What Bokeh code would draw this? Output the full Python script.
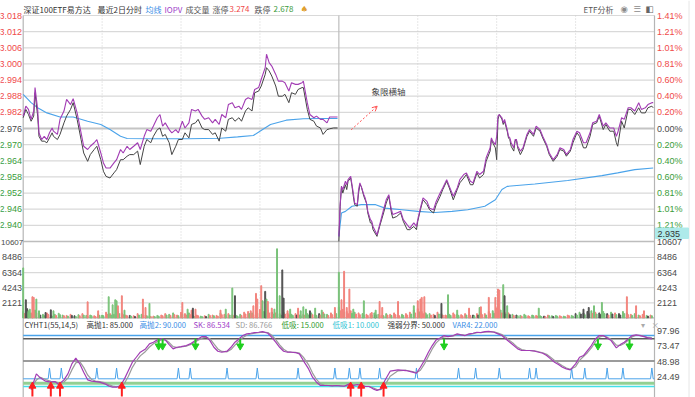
from bokeh.plotting import figure
from bokeh.models import Range1d, Arrow, OpenHead
from bokeh.core.properties import value
from bokeh.embed import file_html
from bokeh.resources import INLINE

# ---------------- data ----------------
PREV_CLOSE = 2.976
price_ticks = [3.018, 3.012, 3.006, 3.000, 2.994, 2.988, 2.982, 2.976,
               2.970, 2.964, 2.958, 2.952, 2.946, 2.940]
vol_ticks = [2121, 4243, 6364, 8486, 10607]
ind_ticks = [97.96, 73.47, 48.98, 24.49]

# day 1 (minutes 0-239)
d1_min = [0, 2, 4, 6, 8, 9, 11, 12, 14, 16,
          18, 20, 22, 23, 26, 28, 31, 33, 36, 38,
          41, 44, 46, 49, 51, 54, 56, 59, 61, 63,
          66, 69, 71, 74, 76, 79, 81, 84, 87, 89,
          92, 94, 97, 99, 102, 104, 106, 108, 111, 113,
          116, 118, 121, 123, 126, 128, 131, 133, 136, 138,
          141, 144, 146, 149, 151, 154, 156, 159, 161, 164,
          166, 169, 171, 174, 176, 179, 181, 184, 185, 187,
          189, 192, 194, 197, 199, 202, 204, 207, 209, 212,
          213, 216, 218, 221, 223, 226, 228, 231, 233, 236,
          239]
d1_iopv = [2.9806, 2.9843, 2.9831, 2.9794, 2.9825, 2.9912, 2.9831, 2.9744, 2.9719, 2.9731,
           2.9719, 2.9744, 2.9762, 2.9750, 2.9738, 2.9794, 2.9825, 2.9868, 2.9849, 2.9871,
           2.9818, 2.9744, 2.9694, 2.9682, 2.9694, 2.9707, 2.9719, 2.9669, 2.9632, 2.9613,
           2.9613, 2.9632, 2.9644, 2.9682, 2.9669, 2.9694, 2.9682, 2.9694, 2.9707, 2.9682,
           2.9731, 2.9756, 2.9750, 2.9769, 2.9800, 2.9812, 2.9769, 2.9781, 2.9756, 2.9744,
           2.9756, 2.9744, 2.9787, 2.9762, 2.9781, 2.9831, 2.9825, 2.9831, 2.9806, 2.9794,
           2.9800, 2.9781, 2.9794, 2.9775, 2.9812, 2.9800, 2.9849, 2.9856, 2.9837, 2.9843,
           2.9831, 2.9868, 2.9874, 2.9868, 2.9905, 2.9912, 2.9943, 2.9986, 3.0036, 3.0005,
           2.9992, 2.9961, 2.9936, 2.9936, 2.9930, 2.9899, 2.9930, 2.9924, 2.9924, 2.9930,
           2.9936, 2.9856, 2.9812, 2.9800, 2.9806, 2.9794, 2.9794, 2.9781, 2.9803, 2.9803,
           2.9803]
d1_price = [2.9800, 2.9831, 2.9812, 2.9787, 2.9806, 2.9893, 2.9806, 2.9731, 2.9713, 2.9713,
            2.9707, 2.9725, 2.9744, 2.9731, 2.9719, 2.9738, 2.9781, 2.9806, 2.9831, 2.9856,
            2.9794, 2.9719, 2.9669, 2.9638, 2.9663, 2.9682, 2.9694, 2.9644, 2.9601, 2.9582,
            2.9576, 2.9595, 2.9607, 2.9644, 2.9644, 2.9657, 2.9663, 2.9663, 2.9676, 2.9626,
            2.9694, 2.9719, 2.9707, 2.9731, 2.9756, 2.9762, 2.9731, 2.9738, 2.9707, 2.9663,
            2.9694, 2.9719, 2.9719, 2.9744, 2.9725, 2.9775, 2.9781, 2.9794, 2.9762, 2.9756,
            2.9756, 2.9738, 2.9744, 2.9713, 2.9762, 2.9750, 2.9794, 2.9800, 2.9787, 2.9800,
            2.9787, 2.9825, 2.9837, 2.9825, 2.9893, 2.9899, 2.9918, 2.9961, 2.9986, 2.9974,
            2.9955, 2.9918, 2.9880, 2.9880, 2.9887, 2.9856, 2.9893, 2.9887, 2.9905, 2.9912,
            2.9912, 2.9831, 2.9794, 2.9787, 2.9769, 2.9762, 2.9738, 2.9756, 2.9759, 2.9762,
            2.9762]
d1_avg_min = [0, 6, 11, 18, 28, 38, 49, 59, 66, 74, 79, 99, 125, 150, 163, 175, 180, 188, 200, 213, 226, 239]
d1_avg = [2.9887, 2.9856, 2.9837, 2.9818, 2.9803, 2.9803, 2.9787, 2.9775, 2.9756, 2.9731, 2.9723,
          2.9722, 2.9722, 2.9724, 2.9729, 2.9734, 2.9750, 2.9775, 2.9791, 2.9796, 2.9797, 2.9797]

# day 2 (minutes 240-479)
d2_min = [240, 241, 242, 243, 245, 246, 247, 249, 250, 251,
          252, 254, 255, 256, 257, 259, 260, 261, 262, 264,
          265, 266, 269, 271, 274, 276, 278, 279, 280, 281,
          284, 287, 289, 292, 294, 297, 299, 300, 302, 304,
          307, 309, 312, 314, 317, 319, 322, 324, 327, 330,
          332, 335, 337, 340, 342, 345, 347, 350, 352, 355,
          356, 357, 359, 360, 361, 362, 364, 365, 366, 368,
          369, 370, 371, 373, 374, 375, 376, 378, 380, 383,
          385, 388, 390, 393, 395, 398, 400, 403, 406, 408,
          411, 413, 416, 418, 421, 423, 426, 428, 431, 433,
          436, 438, 441, 443, 446, 449, 451, 452, 455, 457,
          460, 462, 465, 468, 470, 473, 475, 478, 479]
d2_price = [2.9340, 2.9471, 2.9545, 2.9520, 2.9551, 2.9533, 2.9564, 2.9576, 2.9545, 2.9508,
            2.9477, 2.9471, 2.9520, 2.9551, 2.9545, 2.9508, 2.9495, 2.9483, 2.9446, 2.9409,
            2.9409, 2.9384, 2.9359, 2.9396, 2.9446, 2.9483, 2.9508, 2.9477, 2.9446, 2.9427,
            2.9433, 2.9446, 2.9415, 2.9384, 2.9384, 2.9396, 2.9384, 2.9415, 2.9458, 2.9495,
            2.9477, 2.9458, 2.9446, 2.9477, 2.9508, 2.9533, 2.9564, 2.9539, 2.9495, 2.9533,
            2.9558, 2.9576, 2.9589, 2.9551, 2.9551, 2.9595, 2.9576, 2.9589, 2.9638, 2.9676,
            2.9719, 2.9707, 2.9688, 2.9644, 2.9794, 2.9812, 2.9794, 2.9775, 2.9787, 2.9750,
            2.9725, 2.9719, 2.9694, 2.9676, 2.9713, 2.9719, 2.9688, 2.9663, 2.9682, 2.9731,
            2.9750, 2.9731, 2.9762, 2.9750, 2.9725, 2.9694, 2.9663, 2.9638, 2.9657, 2.9682,
            2.9676, 2.9657, 2.9676, 2.9707, 2.9744, 2.9731, 2.9688, 2.9688, 2.9731, 2.9775,
            2.9781, 2.9806, 2.9756, 2.9775, 2.9750, 2.9750, 2.9707, 2.9694, 2.9787, 2.9762,
            2.9831, 2.9831, 2.9812, 2.9837, 2.9818, 2.9818, 2.9837, 2.9843, 2.9837]
d2_iopv = [2.9359, 2.9477, 2.9545, 2.9533, 2.9564, 2.9551, 2.9570, 2.9582, 2.9551, 2.9520,
           2.9483, 2.9477, 2.9533, 2.9558, 2.9545, 2.9514, 2.9502, 2.9483, 2.9452, 2.9421,
           2.9415, 2.9396, 2.9365, 2.9402, 2.9458, 2.9495, 2.9514, 2.9483, 2.9458, 2.9440,
           2.9446, 2.9452, 2.9421, 2.9402, 2.9390, 2.9409, 2.9396, 2.9421, 2.9464, 2.9502,
           2.9489, 2.9464, 2.9458, 2.9489, 2.9520, 2.9539, 2.9570, 2.9545, 2.9508, 2.9539,
           2.9570, 2.9589, 2.9595, 2.9564, 2.9558, 2.9601, 2.9589, 2.9601, 2.9651, 2.9688,
           2.9725, 2.9713, 2.9700, 2.9731, 2.9806, 2.9812, 2.9800, 2.9781, 2.9794, 2.9756,
           2.9731, 2.9725, 2.9707, 2.9688, 2.9719, 2.9719, 2.9694, 2.9676, 2.9688, 2.9738,
           2.9756, 2.9738, 2.9769, 2.9756, 2.9731, 2.9700, 2.9669, 2.9644, 2.9663, 2.9688,
           2.9682, 2.9663, 2.9682, 2.9719, 2.9750, 2.9744, 2.9707, 2.9707, 2.9744, 2.9781,
           2.9787, 2.9812, 2.9769, 2.9781, 2.9762, 2.9762, 2.9731, 2.9744, 2.9800, 2.9794,
           2.9837, 2.9837, 2.9825, 2.9856, 2.9831, 2.9837, 2.9849, 2.9856, 2.9856]
d2_avg_min = [240, 242, 245, 250, 257, 268, 275, 288, 300, 313, 326, 338, 351, 359, 364, 368, 389, 414, 440, 452, 465, 479]
d2_avg = [2.9359, 2.9446, 2.9452, 2.9471, 2.9477, 2.9477, 2.9464, 2.9458, 2.9452, 2.9448, 2.9452,
          2.9458, 2.9471, 2.9495, 2.9533, 2.9545, 2.9554, 2.9567, 2.9585, 2.9595, 2.9607, 2.9613]

# volume: background bars (two interleaved sets) + the taller bars
small_vol_min = list(range(0, 480, 3))
small_vol = [900, 1300, 700, 1100, 600, 500, 700, 400, 500, 650, 400, 350, 500, 300, 450, 600, 350, 400, 300, 500,
             400, 800, 600, 500, 900, 700, 400, 350, 300, 600, 500, 400, 300, 250, 350, 400, 600, 500, 700, 400,
             800, 600, 700, 300, 400, 250, 300, 500, 400, 350, 700, 500, 600, 450, 350, 500, 800, 900, 700, 1000,
             1200, 900, 1100, 800, 700, 600, 800, 700, 500, 600, 400, 500, 600, 700, 500, 600, 800, 500, 700, 900,
             1500, 1200, 900, 1000, 800, 700, 600, 500, 600, 700, 500, 400, 600, 500, 700, 400, 500, 600, 800, 1100,
             1300, 900, 700, 600, 500, 800, 600, 400, 500, 700, 500, 450, 600, 500, 400, 600, 700, 600, 900, 1000,
             1400, 1100, 800, 700, 500, 400, 350, 500, 300, 400, 350, 300, 250, 400, 300, 350, 300, 250, 400, 350,
             600, 800, 700, 900, 1000, 800, 700, 900, 600, 800, 700, 600, 900, 700, 500, 600, 400, 500, 350, 400]
small_vol_dir = ("gkrgrgrrgggrrkgrggrg" "grrgggrkrrgrgrgrrggr" "rrgkrgrgrrgrrrggrrgr" "rgrkrggrgrgrggrkrgrg"
                 "grrrgrgrrggrgrrrgrrg" "rrggrrgrgrgrrgkrgrrg" "rgrrgkggrgrgkrggrgrg" "kgkkgrkgkgrkgkrggrgr")
small_vol2_min = list(range(1, 480, 3))
small_vol2 = [600, 800, 500, 700, 400, 300, 500, 250, 350, 450, 300, 250, 350, 200, 300, 400, 250, 300, 200, 350,
              300, 500, 400, 350, 600, 450, 300, 250, 200, 400, 350, 300, 200, 180, 250, 300, 400, 350, 450, 300,
              500, 400, 450, 200, 300, 180, 200, 350, 300, 250, 450, 350, 400, 300, 250, 350, 550, 600, 450, 650,
              800, 600, 700, 550, 450, 400, 550, 450, 350, 400, 300, 350, 400, 450, 350, 400, 550, 350, 450, 600,
              1000, 800, 600, 650, 550, 450, 400, 350, 400, 450, 350, 300, 400, 350, 450, 300, 350, 400, 550, 700,
              850, 600, 450, 400, 350, 550, 400, 300, 350, 450, 350, 300, 400, 350, 300, 400, 450, 400, 600, 650,
              900, 700, 550, 450, 350, 300, 250, 350, 200, 300, 250, 200, 180, 300, 200, 250, 200, 180, 300, 250,
              400, 550, 450, 600, 650, 550, 450, 600, 400, 550, 450, 400, 600, 450, 350, 400, 300, 350, 250, 300]
small_vol2_dir = ("rggrkgrgrgrgkgrgrgrg" "grgrgrrgkgrgrggrgrrg" "grrgrgkrgrrggrgrrgrg" "rgrgrgrrgkgrgrgrgrrg"
                  "rgrgrrgrgkrgrgrrgrgr" "grgrkgrrgrgrgrgkrgrg" "grgkrgrgrgrgrgkgrgrg" "gkgkrgkgrkgkgrgkrgkg")
big_vol_min = [0, 2, 4, 5, 7, 8, 10, 12, 17, 21,
               23, 49, 57, 65, 68, 70, 71, 72, 75, 77,
               91, 93, 96, 121, 125, 128, 129, 131, 150, 154,
               159, 161, 173, 175, 177, 178, 181, 182, 184, 185,
               186, 189, 191, 193, 195, 197, 198, 201, 203, 209,
               211, 213, 215, 218, 222, 227, 237, 240, 242, 244,
               246, 248, 251, 259, 265, 268, 271, 273, 285, 297,
               300, 302, 303, 305, 318, 323, 330, 339, 347, 348,
               354, 359, 361, 362, 365, 366, 368, 392, 426, 430,
               434, 440, 459, 466, 472]
big_vol = [7020, 2545, 990, 1225, 2970, 2875, 2640, 990, 755, 1130,
           990, 2260, 990, 2970, 1840, 2545, 2400, 1700, 3110, 1085,
           2640, 1460, 2030, 2170, 1225, 1085, 1365, 1225, 1085, 1225,
           4195, 3110, 990, 1700, 3440, 2640, 4525, 2400, 3725, 2640,
           2310, 1365, 1225, 9710, 3110, 6740, 2780, 990, 1225, 1365,
           990, 1555, 1225, 990, 1365, 1085, 1460, 6410, 2545, 6550,
           1460, 4050, 1225, 2400, 755, 1085, 2310, 1460, 2310, 1700,
           2400, 2640, 2875, 2970, 2030, 3250, 1085, 1365, 1460, 1555,
           2875, 2875, 4050, 3910, 4665, 3110, 1700, 1365, 1225, 1460,
           1700, 2170, 2970, 1700, 990]
big_vol_dir = ("gkggrrggkk" "grrggggrrg" "rrgrgrkrrg" "gkrrrrrgkg" "rrgggkkrgr"
               "gggkggrgrr" "rrggrgrrrg" "rrrrkggrgr" "rrrrgkggkk" "ggrrr")

# CYHT1 indicator
sk_min = [6, 10, 13, 17, 21, 24, 27, 31, 34, 37,
          40, 43, 46, 49, 52, 55, 58, 62, 65, 68,
          71, 74, 77, 80, 83, 86, 89, 93, 96, 99,
          102, 105, 108, 111, 114, 117, 120, 124, 127, 130,
          133, 136, 139, 142, 145, 148, 151, 155, 158, 161,
          164, 167, 170, 173, 176, 179, 182, 186, 189, 192,
          195, 198, 201, 204, 207, 210, 213, 217, 220, 223,
          226, 229, 232, 235, 238, 241, 244, 248, 251, 254,
          257, 260, 263, 266, 269, 272, 275, 279, 285, 291,
          296, 299, 302, 305, 308, 311, 314, 317, 320, 323,
          327, 330, 333, 336, 339, 342, 345, 348, 351, 354,
          358, 361, 364, 367, 370, 373, 376, 379, 382, 385,
          389, 392, 395, 398, 401, 404, 407, 410, 413, 416,
          420, 423, 426, 429, 432, 435, 438, 441, 444, 447,
          451, 454, 457, 460, 463, 466, 469, 472, 475, 478]
sk = [4.7, 29.8, 23.5, 18.3, 16.7, 17.7, 13.0, 20.4, 29.8, 45.5,
      54.4, 45.5, 32.4, 20.4, 18.3, 17.7, 16.7, 14.1, 10.9, 8.8,
      8.8, 11.5, 21.9, 35.0, 48.1, 55.9, 63.8, 69.0, 76.9, 79.5,
      83.2, 84.7, 83.2, 75.8, 69.0, 71.6, 72.7, 74.3, 76.9, 81.1,
      84.7, 88.4, 88.4, 82.1, 71.6, 65.4, 63.8, 65.4, 71.6, 79.5,
      84.7, 90.0, 92.6, 93.6, 94.7, 95.2, 96.2, 93.6, 87.3, 79.5,
      71.6, 65.4, 63.8, 63.8, 63.3, 61.2, 50.7, 37.6, 24.5, 16.7,
      11.5, 11.5, 11.5, 10.9, 11.5, 10.9, 10.4, 14.1, 11.5, 13.0,
      11.5, 9.9, 9.9, 6.2, 3.6, 6.2, 19.3, 34.0, 36.1, 35.0,
      32.4, 30.8, 40.2, 50.7, 63.3, 74.3, 83.2, 86.3, 90.0, 88.4,
      90.0, 92.6, 91.0, 90.0, 92.6, 93.6, 95.2, 94.7, 96.2, 96.7,
      95.2, 92.6, 90.0, 84.7, 79.5, 74.3, 69.0, 66.5, 66.5, 66.5,
      65.4, 63.8, 62.2, 58.6, 53.3, 48.1, 44.4, 40.2, 37.6, 36.1,
      45.5, 55.9, 58.6, 66.5, 74.3, 84.7, 90.0, 90.0, 86.3, 82.1,
      70.6, 75.8, 79.5, 84.7, 90.0, 91.0, 90.0, 88.4, 86.3, 84.7]
sd = [8.0, 20.0, 24.5, 21.0, 18.0, 17.5, 15.5, 17.0, 23.0, 36.0,
      47.0, 49.0, 40.0, 28.0, 21.0, 18.5, 17.5, 16.0, 13.0, 10.5,
      9.5, 10.0, 15.0, 26.0, 40.0, 50.0, 58.0, 65.0, 72.0, 77.0,
      80.5, 83.0, 83.5, 79.0, 72.5, 71.0, 72.0, 73.5, 75.5, 79.0,
      82.5, 86.0, 87.5, 85.0, 77.0, 69.0, 65.0, 64.5, 68.0, 75.0,
      81.5, 87.0, 90.5, 92.5, 93.8, 94.6, 95.5, 94.8, 90.5, 83.5,
      75.5, 68.5, 64.5, 63.8, 63.5, 62.3, 56.0, 44.0, 31.0, 21.0,
      14.0, 12.0, 11.5, 11.2, 11.2, 11.2, 10.7, 12.5, 12.5, 12.3,
      12.2, 10.7, 10.0, 8.0, 5.0, 5.0, 12.0, 26.0, 34.5, 35.5,
      33.5, 31.5, 35.5, 45.0, 57.0, 69.0, 78.5, 84.5, 88.0, 88.5,
      89.5, 91.5, 91.5, 90.5, 91.5, 93.0, 94.5, 94.8, 95.5, 96.3,
      95.8, 93.8, 91.5, 87.5, 82.0, 77.0, 71.5, 68.0, 66.8, 66.5,
      65.8, 64.5, 63.0, 60.5, 56.0, 51.0, 46.5, 42.5, 39.0, 37.0,
      41.0, 51.0, 57.0, 63.0, 70.5, 80.0, 87.5, 89.5, 87.5, 84.0,
      75.0, 74.5, 77.5, 82.5, 88.0, 90.5, 90.3, 89.0, 87.0, 86.8]
HIGH_SELL2, HIGH_SELL1, MID_LINE, LOW_BUY, LOW_BUY1 = 90.0, 85.0, 50.0, 15.0, 10.0
VAR4_BASE, VAR4_PEAK = 22.0, 39.0
var4_spike_min = [20, 29, 56, 71, 118, 127, 155, 178, 209, 237, 248, 256,
                  271, 299, 331, 344, 362, 385, 390, 417, 427, 444, 456, 478]
buy_min = [7, 21, 28, 75, 249, 257, 274]
sell_min = [103, 106, 131, 165, 320, 437, 461]

# ---------------- layout: one frame, reference-pixel geometry ----------------
W, H = 695, 397
REF_W, REF_H = 695, 397
FX0, FX1 = 22.7, 654.0


def xr(px):
    return (px - FX0) / (FX1 - FX0) * 480.0


def py(y):
    return 3.018 - (y - 15.0) * 0.084 / 226.0


def vy(y):
    return (317.4 - y) * 10607.0 / (317.4 - 241.9)


def iy(y):
    return (392.3 - y) * 97.96 / (392.3 - 330.0)


p = figure(width=W, height=H, output_backend="svg", toolbar_location=None,
           x_range=Range1d(xr(0), xr(REF_W)), y_range=Range1d(py(REF_H), py(0)),
           x_axis_type=None, y_axis_type=None, min_border=0, title=None)
p.extra_y_ranges = {"vol": Range1d(vy(REF_H), vy(0)), "ind": Range1d(iy(REF_H), iy(0))}
p.outline_line_color = None
p.background_fill_color = "#ffffff"
p.border_fill_color = "#ffffff"

GRID = "#d9d9d9"
LBL_FONT = value("Liberation Sans")
CJK = value("Noto Sans CJK SC")
RED, GREEN, DARK = "#f04a4a", "#3a9c3a", "#4a4a4a"

# price grid
pt = [t for t in price_ticks if abs(t - PREV_CLOSE) > 1e-9]
p.segment(x0=[0] * len(pt), x1=[480] * len(pt), y0=pt, y1=pt, line_color=GRID, line_width=1.2)
p.segment(x0=0, x1=480, y0=PREV_CLOSE, y1=PREV_CLOSE, line_color="#c4c4c4", line_width=2.2)
p.segment(x0=0, x1=480, y0=2.934, y1=2.934, line_color="#bdbdbd", line_width=1.5)
# volume grid
vt = vol_ticks[:-1]
p.segment(x0=[0] * len(vt), x1=[480] * len(vt), y0=vt, y1=vt, line_color=GRID, line_width=1.2, y_range_name="vol")
p.segment(x0=0, x1=480, y0=0, y1=0, line_color="#b0b0b0", line_width=1.2, y_range_name="vol")
# time grid
hours = [60, 120, 180, 300, 360, 420]
p.segment(x0=hours, x1=hours, y0=[3.018] * 6, y1=[py(317)] * 6, line_color="#cfcfcf", line_width=1, line_dash="1 2")
p.segment(x0=240, x1=240, y0=3.018, y1=py(317), line_color="#bdbdbd", line_width=1.2)
# frame edges
p.segment(x0=[0, 480], x1=[0, 480], y0=[3.018, 3.018], y1=[py(REF_H)] * 2, line_color="#b5b5b5", line_width=1.2)
p.segment(x0=xr(688.5), x1=xr(688.5), y0=py(0), y1=py(REF_H), line_color="#e6e6e6", line_width=1)

# ---------------- price panel ----------------
for mins, avg in ((d1_avg_min, d1_avg), (d2_avg_min, d2_avg)):
    p.line(mins, avg, line_color="#4aa3ea", line_width=1.1)
for mins, pr, io in ((d1_min, d1_price, d1_iopv), (d2_min, d2_price, d2_iopv)):
    p.line(mins, pr, line_color="#444444", line_width=1)
    p.line(mins, io, line_color="#a23cb4", line_width=1.1)

# ---------------- volume panel ----------------
cmap = {"r": "#f2837c", "g": "#79c279", "k": "#505050"}
for mins, vols, dirs in ((small_vol_min, small_vol, small_vol_dir),
                         (small_vol2_min, small_vol2, small_vol2_dir),
                         (big_vol_min, big_vol, big_vol_dir)):
    p.vbar(x=mins, top=vols, bottom=0, width=0.7,
           color=[cmap[c] for c in dirs], y_range_name="vol")

# ---------------- indicator panel ----------------
lv = [HIGH_SELL2, HIGH_SELL1, MID_LINE, LOW_BUY, LOW_BUY1]
p.segment(x0=[0] * 5, x1=[480] * 5, y0=lv, y1=lv,
          line_color=["#4aa3ea", "#5a5a5a", "#7a7a7a", "#93d093", "#45e0e8"],
          line_width=[1.5, 1.5, 1.5, 3, 1.5], y_range_name="ind")
vx, vyv = [0], [VAR4_BASE]
for m in var4_spike_min:
    vx += [m - 1, m, m + 1]
    vyv += [VAR4_BASE, VAR4_PEAK, VAR4_BASE]
vx.append(480)
vyv.append(VAR4_BASE)
p.line(vx, vyv, line_color="#4aa3ea", line_width=1, y_range_name="ind")
p.line(sk_min, sd, line_color="#9a9a9a", line_width=1.2, y_range_name="ind")
p.line(sk_min, sk, line_color="#a23cb4", line_width=1.2, y_range_name="ind")
nb, ns = len(buy_min), len(sell_min)
p.segment(x0=buy_min, x1=buy_min, y0=[-6] * nb, y1=[8] * nb, line_color="#ff1f1f", line_width=2, y_range_name="ind")
p.scatter(buy_min, [10.5] * nb, marker="triangle", size=7, color="#ff1f1f", y_range_name="ind")
p.segment(x0=sell_min, x1=sell_min, y0=[85] * ns, y1=[76] * ns, line_color="#1fcf1f", line_width=2, y_range_name="ind")
p.scatter(sell_min, [73.5] * ns, marker="inverted_triangle", size=7, color="#1fcf1f", y_range_name="ind")

# ---------------- tick labels ----------------
lcol = [RED if t > PREV_CLOSE + 1e-9 else (GREEN if t < PREV_CLOSE - 1e-9 else DARK) for t in price_ticks]
p.text(x=[xr(21.5)] * len(price_ticks), y=price_ticks, text=["%.3f" % t for t in price_ticks],
       text_color=lcol, text_font=LBL_FONT, text_font_size=value("9px"), text_align="right", text_baseline="middle")
p.text(x=[xr(656.5)] * len(price_ticks), y=price_ticks,
       text=["%.2f%%" % (abs(t - PREV_CLOSE) / PREV_CLOSE * 100) for t in price_ticks],
       text_color=lcol, text_font=LBL_FONT, text_font_size=value("9px"), text_align="left", text_baseline="middle")
p.text(x=[xr(21.5)] * 4, y=vol_ticks[:-1], text=[str(v) for v in vol_ticks[:-1]], text_color=DARK,
       text_font=LBL_FONT, text_font_size=value("9px"), text_align="right", text_baseline="middle", y_range_name="vol")
p.text(x=[xr(0.5)], y=[vol_ticks[-1]], text=[str(vol_ticks[-1])], text_color=DARK,
       text_font=LBL_FONT, text_font_size=value("8px"), text_align="left", text_baseline="middle", y_range_name="vol")
p.text(x=[xr(656.5)] * 5, y=vol_ticks, text=[str(v) for v in vol_ticks], text_color=DARK,
       text_font=LBL_FONT, text_font_size=value("9px"), text_align="left", text_baseline="middle", y_range_name="vol")
p.text(x=[xr(656.5)] * 4, y=ind_ticks, text=["%.2f" % v for v in ind_ticks], text_color=DARK,
       text_font=LBL_FONT, text_font_size=value("9px"), text_align="left", text_baseline="middle", y_range_name="ind")

# current-price readout box
p.quad(left=xr(655), right=xr(688), top=py(227.5), bottom=py(238), color="#aeeaea")
p.text(x=[xr(657)], y=[py(233)], text=["2.935"], text_color="#333333", text_font=LBL_FONT,
       text_font_size=value("9px"), text_align="left", text_baseline="middle")

# ---------------- header texts ----------------
head = [(23, "深证100ETF易方达", "#333333"), (97, "最近2日分时", "#333333"), (145, "均线", "#3a8ee6"),
        (164, "IOPV", "#a03cc8"), (185, "成交量", "#555555"), (212, "涨停", "#555555"),
        (229, "3.274", "#f04848"), (254, "跌停", "#555555"), (273, "2.678", "#3a9a3a"),
        (583, "ETF分析", "#555555")]
p.text(x=[xr(h[0]) for h in head], y=[py(8.5)] * len(head), text=[h[1] for h in head],
       text_color=[h[2] for h in head], text_font=CJK, text_font_size=value("8px"),
       text_align="left", text_baseline="middle")
icons = [(300, "♠", "#e0a030"), (620, "◉", "#8a8a8a"), (633, "☰", "#8a8a8a"), (645, "◧", "#666666")]
p.text(x=[xr(i[0]) for i in icons], y=[py(8.5)] * len(icons), text=[i[1] for i in icons],
       text_color=[i[2] for i in icons], text_font=value("DejaVu Sans"), text_font_size=value("8.5px"),
       text_align="left", text_baseline="middle")

ind_head = [(24, "CYHT1(55,14,5)", "#333333"), (86, "高抛1: 85.000", "#333333"),
            (139, "高抛2: 90.000", "#3a8ee6"), (193, "SK: 86.534", "#a03cc8"),
            (235, "SD: 86.766", "#9a9a9a"), (281, "低吸: 15.000", "#2e9a2e"),
            (332, "低吸1: 10.000", "#30c4d4"), (387, "强弱分界: 50.000", "#333333"),
            (452, "VAR4: 22.000", "#3a8ee6"), (640, "▾", "#aaaaaa"), (651, "×", "#aaaaaa")]
p.text(x=[xr(h[0]) for h in ind_head], y=[py(323.5)] * len(ind_head), text=[h[1] for h in ind_head],
       text_color=[h[2] for h in ind_head], text_font=CJK, text_font_size=value("7.6px"),
       text_align="left", text_baseline="middle")

# annotation "象限横轴"
p.text(x=[xr(371)], y=[py(90.5)], text=["象限横轴"], text_color="#444444", text_font=CJK,
       text_font_size=value("8.5px"), text_align="left", text_baseline="middle")
p.add_layout(Arrow(end=OpenHead(size=5, line_color="#ff5050", line_width=1),
                   x_start=xr(350.7), y_start=py(129.3), x_end=xr(376.7), y_end=py(105.7),
                   line_color="#ff5050", line_width=1, line_dash="2 2"))

open("out.html", "w").write(file_html(p, INLINE))
